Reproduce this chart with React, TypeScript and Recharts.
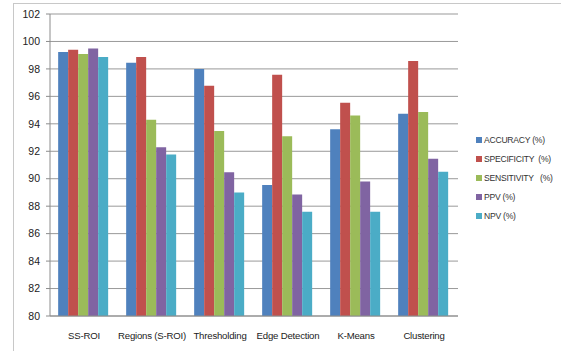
import React from 'react';
import { BarChart, Bar, XAxis, YAxis, CartesianGrid } from 'recharts';

const methods = ['SS-ROI', 'Regions (S-ROI)', 'Thresholding', 'Edge Detection', 'K-Means', 'Clustering'];
const accuracy = [99.23, 98.45, 98.0, 89.55, 93.6, 94.74];
const specificity = [99.4, 98.86, 96.78, 97.58, 95.54, 98.57];
const sensitivity = [99.08, 94.3, 93.48, 93.09, 94.6, 94.86];
const ppv = [99.49, 92.29, 90.47, 88.85, 89.8, 91.45];
const npv = [98.86, 91.76, 89.0, 87.6, 87.6, 90.5];
const yTicks = [80, 82, 84, 86, 88, 90, 92, 94, 96, 98, 100, 102];

const series = [
  { key: 'accuracy', name: 'ACCURACY (%)', color: '#4F81BD' },
  { key: 'specificity', name: 'SPECIFICITY  (%)', color: '#C0504D' },
  { key: 'sensitivity', name: 'SENSITIVITY   (%)', color: '#9BBB59' },
  { key: 'ppv', name: 'PPV (%)', color: '#8064A2' },
  { key: 'npv', name: 'NPV (%)', color: '#4BACC6' }
];

const data = methods.map((name, i) => ({
  name,
  idx: i,
  accuracy: accuracy[i],
  specificity: specificity[i],
  sensitivity: sensitivity[i],
  ppv: ppv[i],
  npv: npv[i]
}));

const font = '"Liberation Sans", Arial, sans-serif';

// legend drawn beside the chart, like the excel one
const LegendBox = () => (
  <div
    style={{
      position: 'absolute',
      left: 476,
      top: 130,
      fontFamily: font,
      fontSize: 8.6,
      letterSpacing: -0.25,
      color: '#333'
    }}
  >
    {series.map((s) => (
      <div key={s.key} style={{ display: 'flex', alignItems: 'center', height: 19, whiteSpace: 'pre' }}>
        <span style={{ width: 6, height: 6, background: s.color, marginRight: 2 }} />
        {s.name}
      </div>
    ))}
  </div>
);

export default function App() {
  return (
    <div style={{ position: 'absolute', left: 0, top: 0, width: 561, height: 351, background: '#fff', overflow: 'hidden' }}>
      <div
        style={{
          position: 'absolute',
          left: 13,
          top: 3,
          width: 600,
          height: 400,
          borderLeft: '1px solid #c8c8c8',
          borderTop: '1px solid #c8c8c8'
        }}
      />
      <div style={{ position: 'absolute', left: 0, top: 0 }}>
        <BarChart
          width={561}
          height={351}
          data={data}
          margin={{ top: 14, right: 103, left: 0, bottom: 5 }}
          barCategoryGap="12%"
          barGap={0}
        >
          <CartesianGrid vertical={false} stroke="#999" />
          <XAxis
            xAxisId="edges"
            type="number"
            dataKey="idx"
            domain={[0, 6]}
            ticks={[0, 1, 2, 3, 4, 5, 6]}
            tickFormatter={() => ''}
            tickSize={4}
            axisLine={false}
            stroke="#8c8c8c"
            height={0}
          />
          <XAxis
            dataKey="name"
            tickLine={false}
            axisLine={{ stroke: '#8c8c8c' }}
            tick={{ fill: '#222', fontSize: 9.6, fontFamily: font, letterSpacing: -0.2 }}
            tickMargin={10}
            interval={0}
            height={30}
          />
          <YAxis
            domain={[80, 102]}
            ticks={yTicks}
            width={50}
            tickSize={4}
            tickMargin={6}
            axisLine={{ stroke: '#8c8c8c' }}
            tickLine={{ stroke: '#8c8c8c' }}
            tick={{ fill: '#222', fontSize: 10.5, fontFamily: font }}
          />
          {series.map((s) => (
            <Bar key={s.key} dataKey={s.key} name={s.name} fill={s.color} isAnimationActive={false} />
          ))}
        </BarChart>
      </div>
      <LegendBox />
    </div>
  );
}
